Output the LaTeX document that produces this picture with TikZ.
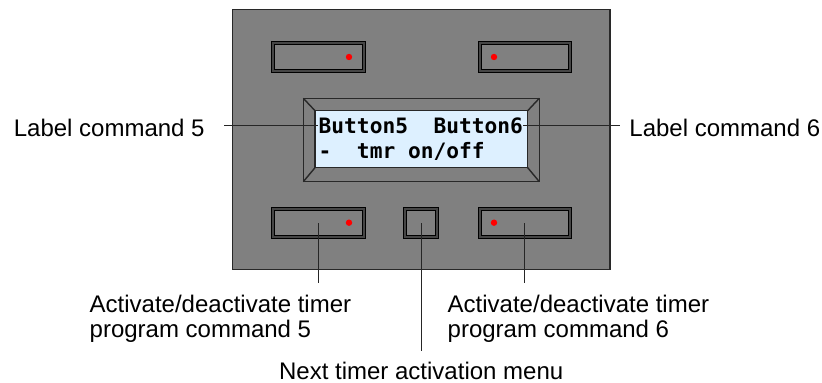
\documentclass[tikz,border=0pt]{standalone}
\usepackage{fontspec}
\setmainfont{Liberation Sans}
\newfontfamily\lcdfont{DejaVu Sans Mono}
\usepackage{tikz}
\usetikzlibrary{positioning}
\usepackage{xcolor}

\definecolor{panelgray}{RGB}{128,128,128}
\definecolor{panelrim}{RGB}{40,40,40}
\definecolor{keyband}{RGB}{70,70,70}
\definecolor{lcdblue}{RGB}{221,240,255}

\tikzset{
  keybtn/.style={draw=black, line width=0.5pt, double=keyband, double distance=1pt,
    fill=panelgray, inner sep=0pt, minimum height=14pt},
  callout/.style={font=\fontsize{12}{12.5}\selectfont, inner sep=0pt, align=left},
  leader/.style={line width=0.5pt, black!85},
  lcdtext/.style={font=\lcdfont\bfseries\fontsize{10.6}{12.5}\selectfont,
    inner sep=0pt, anchor=base west},
}

\begin{document}
\begin{tikzpicture}[x=0.5pt, y=-0.5pt]
  \useasboundingbox (0,0) rectangle (822,383);

  % front panel
  \draw[fill=panelgray, draw=panelrim, line width=0.75pt] (232.7,9.5) rectangle (610,269.5);

  % keys
  \node[keybtn, minimum width=45.3pt] (keyA) at (318.3,57) {};
  \node[keybtn, minimum width=45.3pt] (keyB) at (524.8,57) {};
  \node[keybtn, minimum width=45.3pt] (keyE) at (318.5,223.3) {};
  \node[keybtn, minimum width=15.85pt] (keyM) at (421.2,223.3) {};
  \node[keybtn, minimum width=45.3pt] (keyF) at (524.8,223.3) {};

  % red dots
  \fill[red] (349,57) circle (1.6pt);
  \fill[red] (494,57) circle (1.6pt);
  \fill[red] (349,222.7) circle (1.6pt);
  \fill[red] (494,222.7) circle (1.6pt);

  % display bezel
  \draw[fill=panelgray, draw=panelrim, line width=0.7pt] (303.3,98.3) rectangle (539.3,181.7);
  \draw[fill=lcdblue, draw=panelrim, line width=0.7pt] (315,110.7) rectangle (527.7,167.7);
  \draw[panelrim, line width=0.7pt]
    (303.3,98.3) -- (315,110.7)
    (539.3,98.3) -- (527.7,110.7)
    (303.3,181.7) -- (315,167.7)
    (539.3,181.7) -- (527.7,167.7);

  % display text
  \node[lcdtext] (lcdone) at (318.3,133.3) {Button5\ \ Button6};
  \node[lcdtext] (lcdtwo) at (318.3,158.3) {-\ \ tmr on/off};

  % labels
  \node[callout, anchor=east, inner xsep=9.5pt] (lbl5) at (224,127.5) {Label command 5};
  \node[callout, anchor=west, inner xsep=4.5pt] (lbl6) at (620,127.5) {Label command 6};
  \draw[leader] (lbl5.east |- lcdone.west) -- (lcdone.west);
  \draw[leader] (lcdone.east) -- (lbl6.west |- lcdone.east);

  \node[callout, anchor=north west, inner ysep=6pt] (act5) at (89.3,283)
    {Activate/deactivate timer\\program command 5};
  \node[callout, anchor=north west, inner ysep=6pt] (act6) at (447.3,283)
    {Activate/deactivate timer\\program command 6};
  \node[callout, anchor=north, inner ysep=5.35pt] (nxt) at (421.2,351)
    {Next timer activation menu};

  \draw[leader] (keyE.center) -- (keyE.center |- act5.north);
  \draw[leader] (keyM.center) -- (nxt.north);
  \draw[leader] (keyF.center) -- (keyF.center |- act6.north);
\end{tikzpicture}
\end{document}
